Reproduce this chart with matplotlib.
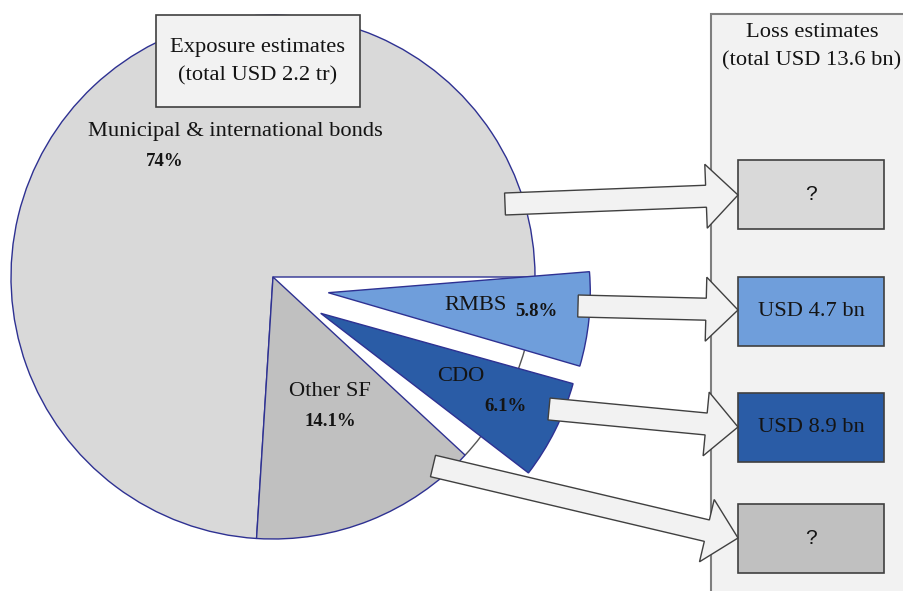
import matplotlib.pyplot as plt
from matplotlib.patches import Wedge, Rectangle, Arc, FancyArrow

# data
segments = ['Municipal & international bonds', 'Other SF', 'CDO', 'RMBS']
shares = [74.0, 14.1, 6.1, 5.8]
share_labels = ['74%', '14.1%', '6.1%', '5.8%']
loss_order = ['Municipal & international bonds', 'RMBS', 'CDO', 'Other SF']
loss_labels = ['?', 'USD 4.7 bn', 'USD 8.9 bn', '?']
exposure_title = 'Exposure estimates\n(total USD 2.2 tr)'
loss_title = 'Loss estimates\n(total USD 13.6 bn)'

# layout (pixel coords, y down)
W, H = 904, 591
cx, cy, R = 273, 277, 262
colors = {'Municipal & international bonds': '#d9d9d9', 'Other SF': '#c0c0c0',
          'CDO': '#2a5ca6', 'RMBS': '#6f9edb'}
explode = {'CDO': ((320.7, 313.3), 5.3), 'RMBS': ((328.3, 292.7), 4.6)}
name_pos = {'Municipal & international bonds': (88, 131, 'left'), 'Other SF': (330, 392, 'center'),
            'CDO': (461, 377, 'center'), 'RMBS': (476, 305, 'center')}
pct_pos = {'Municipal & international bonds': (165, 162), 'Other SF': (330, 422),
           'CDO': (506, 407), 'RMBS': (536, 312)}
box_top = {'Municipal & international bonds': 160, 'RMBS': 277, 'CDO': 393, 'Other SF': 504}
arrow_tail = {'Municipal & international bonds': (505, 204), 'RMBS': (578, 306),
              'CDO': (549, 409), 'Other SF': (433, 466)}
arrow_tip_y = {'Municipal & international bonds': 195, 'RMBS': 310, 'CDO': 427, 'Other SF': 538}
edge = '#2e3192'
serif = 'Liberation Serif'
ink = '#141414'

fig = plt.figure(figsize=(W / 100, H / 100), dpi=100)
ax = fig.add_axes([0, 0, 1, 1])
ax.set_xlim(0, W)
ax.set_ylim(H, 0)
ax.set_aspect('equal')
ax.axis('off')

# original circle outline behind the pulled-out slices
ax.add_patch(Arc((cx, cy), 2 * R, 2 * R, theta1=0, theta2=360 * (shares[2] + shares[3]) / 100,
                 color='#555555', lw=1, zorder=1))

# wedges (screen angles counter-clockwise, data y is inverted)
start = 0.0
for name, s in zip(segments, shares):
    span = 360 * s / 100
    a, b = start, start + span
    center = (cx, cy)
    if name in explode:
        center, rot = explode[name]
        a, b = a + rot, b + rot
    ax.add_patch(Wedge(center, R, -b, -a, facecolor=colors[name], edgecolor=edge,
                       lw=1, zorder=2))
    start += span

for name, pct in zip(segments, share_labels):
    x, y, ha = name_pos[name]
    ax.text(x, y, name, ha=ha, va='center', family=serif, fontsize=16.2, color=ink, zorder=5)
    px, py = pct_pos[name]
    ax.text(px, py, pct, ha='center', va='center', family=serif, fontsize=13.5,
            fontweight='bold', color=ink, zorder=5)

# exposure title box
ax.add_patch(Rectangle((156, 15), 204, 92, facecolor='#f2f2f2', edgecolor='#404040', lw=1.2, zorder=6))
ax.text(258, 62, exposure_title, ha='center', va='center', family=serif, fontsize=16.2,
        linespacing=1.62, color=ink, zorder=7)

# loss panel
ax.add_patch(Rectangle((711, 14), 260, 640, facecolor='#f2f2f2', edgecolor='#7f7f7f', lw=1.5, zorder=3))
ax.text(812, 47, loss_title, ha='center', va='center', family=serif, fontsize=16.2,
        linespacing=1.62, color=ink, zorder=4)

for name, lab in zip(loss_order, loss_labels):
    top = box_top[name]
    ax.add_patch(Rectangle((738, top), 146, 69, facecolor=colors[name], edgecolor='#404040',
                           lw=1.2, zorder=4))
    if lab == '?':
        ax.text(811, top + 35, lab, ha='center', va='center', family='Liberation Sans',
                fontsize=15, color=ink, zorder=5)
    else:
        ax.text(811, top + 35, lab, ha='center', va='center', family=serif,
                fontsize=16.2, color=ink, zorder=5)

    tx, ty = arrow_tail[name]
    ax.add_patch(FancyArrow(tx, ty, 738 - tx, arrow_tip_y[name] - ty, width=22, head_width=64,
                            head_length=32, length_includes_head=True, facecolor='#f2f2f2',
                            edgecolor='#404040', lw=1, zorder=8))

fig.savefig('out.png', dpi=100)
